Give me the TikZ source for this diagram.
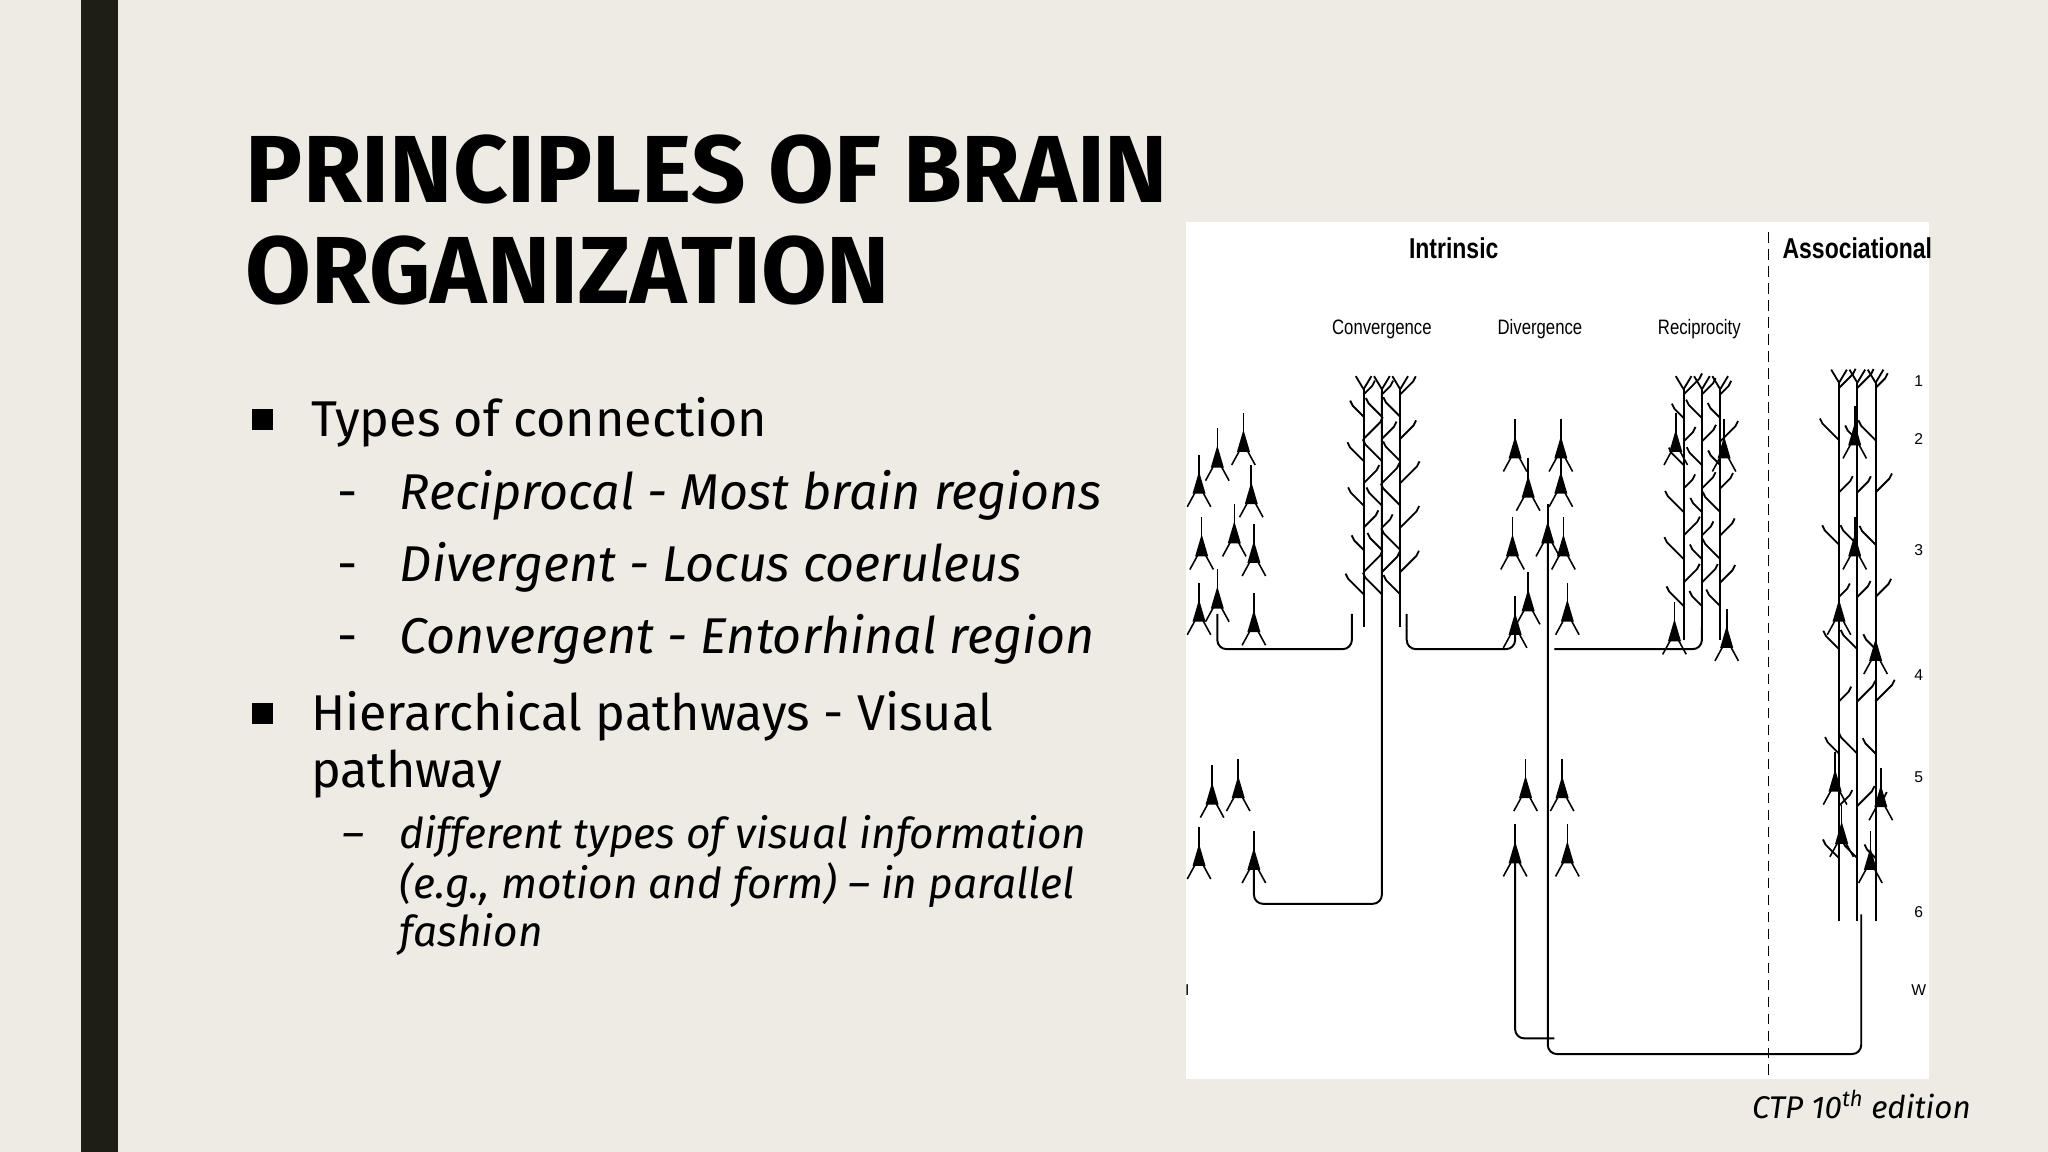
\documentclass[tikz,border=0pt]{standalone}
\usepackage{fontspec}
\setmainfont{Fira Sans}
\newfontfamily\capfont{Liberation Sans}
\newcommand\pyr[2]{\begin{scope}[shift={(#1,#2)}, line width=1.2pt]
\fill (-5,6) -- (5,6) -- (0,-11) -- cycle;
\draw (0,-8) -- (0,-24);
\draw (-3,5) -- (-9,16); \draw (3,5) -- (9,16);
\end{scope}}
\newcommand\dtree[4]{% x, ytop, ybottom, seed
\pgfmathsetseed{#4}
\begin{scope}[line width=1.4pt]
\foreach \dx in {-14,0,14}{
 \draw (#1+\dx,#2+8) -- (#1+\dx,#3);
 \foreach \k in {0,...,9}{
  \pgfmathsetmacro\yy{#2+12+\k*(#3-#2-20)/10}
  \pgfmathsetmacro\sg{mod(\k,2)==0?1:-1}
  \pgfmathsetmacro\ln{6+rnd*7}
  \draw (#1+\dx,\yy) -- ++(\sg*\ln,-\ln) -- ++(\sg*2,-4);
 }
 \draw (#1+\dx,#2+8) -- ++(-6,-10); \draw (#1+\dx,#2+8) -- ++(6,-10);
}
\end{scope}}
\begin{document}
\begin{tikzpicture}[x=1pt,y=-1pt,
  conn/.style={line width=1.5pt, rounded corners=7pt},
  lab/.style={font=\capfont\fontsize{16}{16}\selectfont, inner sep=0, xscale=0.8},
  num/.style={font=\capfont\fontsize{12}{12}\selectfont, inner sep=0}]
\fill[fill={rgb,255:red,238;green,235;blue,228}] (0,0) rectangle (1568,882);
\fill[fill={rgb,255:red,30;green,30;blue,22}] (62,0) rectangle (90,882);
% title
\node[anchor=base west, inner sep=0, font=\bfseries\fontsize{73}{73}\selectfont] (t1) at (188,155) {PRINCIPLES OF BRAIN};
\node[anchor=base west, inner sep=0, font=\bfseries\fontsize{73}{73}\selectfont] (t2) at (188,232) {ORGANIZATION};
% bullets
\begin{scope}[every node/.style={anchor=base west, inner sep=0, font=\fontsize{38.5}{38.5}\selectfont}]
\fill (193,313) rectangle (209,329);
\node (b1) at (238,334) {Types of connection};
\node (d1) at (258,390) {-}; \node (s1) at (306,390) {\itshape Reciprocal - Most brain regions};
\node (d2) at (258,445) {-}; \node (s2) at (306,445) {\itshape Divergent - Locus coeruleus};
\node (d3) at (258,500) {-}; \node (s3) at (306,500) {\itshape Convergent - Entorhinal region};
\fill (193,538) rectangle (209,554);
\node (b2) at (238,559) {Hierarchical pathways - Visual};
\node (b2b) at (238,603) {pathway};
\end{scope}
\begin{scope}[every node/.style={anchor=base west, inner sep=0, font=\itshape\fontsize{32.5}{32.5}\selectfont}]
\node (d4) at (262,650) {–};
\node (s4) at (306,650) {different types of visual information};
\node (s5) at (306,688) {(e.g., motion and form) – in parallel};
\node (s6) at (306,725) {fashion};
\end{scope}
\node[anchor=base east, inner sep=0, font=\itshape\fontsize{24}{24}\selectfont] (cap) at (1509,856) {CTP 10\textsuperscript{th} edition};
% figure
\fill[white] (908,170) rectangle (1477,826);
\node[inner sep=0, xscale=0.8, font=\capfont\bfseries\fontsize{22}{22}\selectfont] (intr) at (1113,190) {Intrinsic};
\node[inner sep=0, xscale=0.8, font=\capfont\bfseries\fontsize{22}{22}\selectfont] (assoc) at (1422,190) {Associational};
\node[lab] (conv) at (1058,252) {Convergence};
\node[lab] (div) at (1179,252) {Divergence};
\node[lab] (rec) at (1301,252) {Reciprocity};
\draw[line width=1.5pt, dash pattern=on 8pt off 5pt] (1354,178) -- (1354,826);
\foreach \n/\y in {1/292,2/336,3/421,4/517,5/595,6/698,W/758}{\node[num] at (1469,\y) {\n};}
\node[num] at (909,758) {I};
% neurons
\foreach \x/\y in {932/352,952/340,918/372,958/380,920/420,945/410,960/425,918/470,932/460,960/478,928/610,948/605,918/657,960/660,
 1160/345,1195/345,1170/375,1195/372,1158/420,1185/410,1197/420,1170/462,1200/470,1160/480,1168/605,1196/605,1160/655,1200/655,
 1283/340,1320/345,1282/485,1322/490,1420/335,1408/470,1436/500,1405/600,1440/612,1410/640,1432/660,1420/420}{\pyr{\x}{\y}}
\dtree{1058}{290}{480}{3}
\dtree{1303}{290}{490}{7}
\dtree{1422}{285}{705}{11}
% connectors
\draw[conn] (932,470) -- (932,497) -- (1035,497) -- (1035,470);
\draw[conn] (960,665) -- (960,692) -- (1058,692) -- (1058,300);
\draw[conn] (1077,470) -- (1077,497) -- (1160,497) -- (1160,485);
\draw[conn] (1185,405) -- (1185,807) -- (1425,807) -- (1425,700);
\draw[conn] (1160,660) -- (1160,795) -- (1190,795);
\draw[conn] (1190,497) -- (1303,497) -- (1303,480);
\end{tikzpicture}
\end{document}
